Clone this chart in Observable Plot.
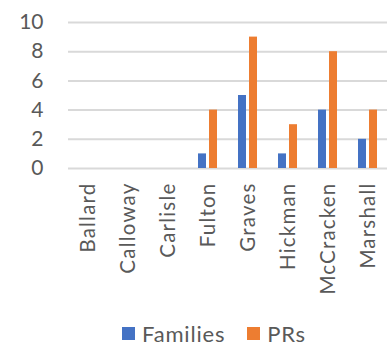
<!DOCTYPE html>
<html>
<head>
<meta charset="utf-8">
<script src="https://cdn.jsdelivr.net/npm/d3@7"></script>
<script src="https://cdn.jsdelivr.net/npm/@observablehq/plot@0.6"></script>
<style>
  html, body { margin: 0; padding: 0; background: #fff; overflow: hidden; }
  #chart { width: 387px; height: 355px; position: relative; font-family: Lato, "Open Sans", sans-serif; }
  .legend { position: absolute; top: 320px; left: 122px; display: flex; align-items: center; font-size: 22px; letter-spacing: 0.8px; color: #595959; font-family: Lato, sans-serif; }
  .legend .item { display: flex; align-items: center; margin-right: 22px; }
  .legend .sw { width: 13px; height: 13px; margin-right: 7px; }
  .fxaxis text { letter-spacing: 1.2px; }
</style>
</head>
<body>
<div id="chart"></div>
<script>
const categories = ["Ballard", "Calloway", "Carlisle", "Fulton", "Graves", "Hickman", "McCracken", "Marshall"];
const families = [0, 0, 0, 1, 5, 1, 4, 2];
const prs = [0, 0, 0, 4, 9, 3, 8, 4];
const seriesNames = ["Families", "PRs"];
const seriesColors = ["#4472C4", "#ED7D31"];
const yTicks = [0, 2, 4, 6, 8, 10];

const data = categories.flatMap((c, i) => [
  {county: c, series: seriesNames[0], value: families[i]},
  {county: c, series: seriesNames[1], value: prs[i]}
]);

const svg = Plot.plot({
  width: 387,
  height: 310,
  marginLeft: 65,
  marginRight: -4,
  marginTop: 22,
  marginBottom: 142,
  style: {fontFamily: "Lato, sans-serif", color: "#595959", background: "transparent", overflow: "visible"},
  fx: {domain: categories, padding: 0, label: null},
  x: {domain: seriesNames, axis: null, paddingInner: 0.25, paddingOuter: 0.83},
  y: {domain: [0, 10], label: null},
  color: {domain: seriesNames, range: seriesColors},
  marks: [
    Plot.ruleY(yTicks, {stroke: "#d9d9d9", strokeWidth: 2}),
    Plot.barY(data, {fx: "county", x: "series", y: "value", fill: "series", filter: d => d.value > 0}),
    Plot.axisY(yTicks, {tickSize: 0, tickPadding: 25, fontSize: 21, fill: "#595959", label: null}),
    Plot.axisFx({anchor: "bottom", tickSize: 0, tickPadding: 14, tickRotate: -90, fontSize: 20.5, fill: "#595959", label: null, className: "fxaxis"})
  ]
});
const chart = document.getElementById("chart");
chart.appendChild(svg);

const legend = document.createElement("div");
legend.className = "legend";
seriesNames.forEach((name, i) => {
  const item = document.createElement("div");
  item.className = "item";
  const sw = document.createElement("div");
  sw.className = "sw";
  sw.style.background = seriesColors[i];
  const label = document.createElement("span");
  label.textContent = name;
  item.appendChild(sw);
  item.appendChild(label);
  legend.appendChild(item);
});
chart.appendChild(legend);
</script>
</body>
</html>
